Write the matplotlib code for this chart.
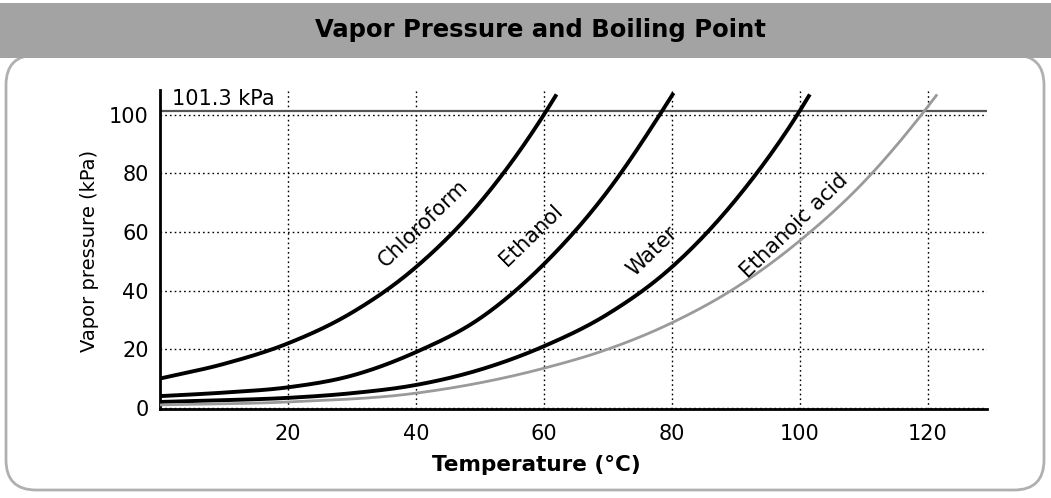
import matplotlib
matplotlib.use('Agg')
import numpy as np
import matplotlib.pyplot as plt
from matplotlib.patches import FancyBboxPatch, Rectangle

# Data (temperature in C, vapor pressure in kPa)
chloroform_t = [0, 10, 20, 30, 40, 50, 60, 62]
chloroform_p = [10, 15, 22, 32.5, 48, 70, 100, 107]

ethanol_t = [0, 10, 20, 30, 40, 50, 60, 70, 78.5, 80.3]
ethanol_p = [4, 5.2, 7, 11, 19, 30.5, 49, 74, 101.3, 107.5]

water_t = [0, 10, 20, 30, 40, 50, 60, 70, 80, 90, 100, 101.6]
water_p = [2, 2.6, 3.4, 5, 7.8, 13, 21, 32, 48, 71, 101.3, 107]

acid_t = [0, 20, 40, 60, 70, 80, 90, 100, 110, 119.5, 121.5]
acid_p = [1, 2, 5, 13.5, 20, 29, 41, 57, 77, 101.3, 107]

x_ticks = [20, 40, 60, 80, 100, 120]
y_ticks = [0, 20, 40, 60, 80, 100]
boiling_line = 101.3

labels = ['Chloroform', 'Ethanol', 'Water', 'Ethanoic acid']
label_pos = [(41.1, 62.8), (58.0, 59.0), (76.9, 53.6), (99.1, 62.1)]


def smooth(t, p, n=300):
    """cubic hermite through the read points, just to draw a smooth line"""
    t = np.asarray(t, float)
    y = np.asarray(p, float)
    h = np.diff(t)
    d = np.diff(y) / h
    m = np.empty_like(y)
    m[0], m[-1] = d[0], d[-1]
    m[1:-1] = (d[:-1] * h[1:] + d[1:] * h[:-1]) / (h[:-1] + h[1:])
    tt = np.linspace(t[0], t[-1], n)
    i = np.clip(np.searchsorted(t, tt) - 1, 0, len(h) - 1)
    s = (tt - t[i]) / h[i]
    h00 = 2 * s**3 - 3 * s**2 + 1
    h10 = s**3 - 2 * s**2 + s
    h01 = -2 * s**3 + 3 * s**2
    h11 = s**3 - s**2
    yy = h00 * y[i] + h10 * h[i] * m[i] + h01 * y[i + 1] + h11 * h[i] * m[i + 1]
    return tt, yy


fig = plt.figure(figsize=(10.51, 4.98), dpi=100)

# frame and title band
frame = FancyBboxPatch((0.06, 0.08), 10.38, 4.35,
                       boxstyle='round,pad=0,rounding_size=0.3',
                       transform=fig.dpi_scale_trans,
                       facecolor='none', edgecolor='#b0b0b0', lw=2, zorder=0)
fig.patches.append(frame)
band = Rectangle((0, 1 - 58 / 498), 1, 55 / 498, transform=fig.transFigure,
                 facecolor='#a3a3a3', edgecolor='none', zorder=1)
fig.patches.append(band)
fig.text(540 / 1051, 1 - 30 / 498, 'Vapor Pressure and Boiling Point',
         ha='center', va='center', fontsize=17.5, fontweight='bold',
         color='black', zorder=2)

ax = fig.add_axes([160 / 1051, 1 - 409 / 498, 827 / 1051, 319 / 498])
ax.set_facecolor('none')
ax.set_zorder(5)

for t, p, c, lw in [(chloroform_t, chloroform_p, 'black', 2.8),
                    (ethanol_t, ethanol_p, 'black', 2.8),
                    (water_t, water_p, 'black', 2.8),
                    (acid_t, acid_p, '#9a9a9a', 2.0)]:
    tt, pp = smooth(t, p)
    ax.plot(tt, pp, color=c, lw=lw, solid_capstyle='butt', zorder=3)

ax.axhline(boiling_line, color='#555555', lw=1.6, zorder=2)
ax.text(1.8, 105.5, '101.3 kPa', fontsize=15, ha='left', va='center')

for name, (tx, ty) in zip(labels, label_pos):
    ax.text(tx, ty, name, fontsize=15, rotation=44, rotation_mode='anchor',
            ha='center', va='center')

ax.set_xlim(0, 129.3)
ax.set_ylim(-0.4, 108.5)
ax.set_xticks(x_ticks)
ax.set_yticks(y_ticks)
ax.tick_params(length=0, labelsize=15)
ax.tick_params(axis='x', pad=11)
ax.tick_params(axis='y', pad=8)
ax.grid(True, color='black', linestyle=(0, (1.2, 2.2)), lw=1)

for s in ['top', 'right']:
    ax.spines[s].set_visible(False)
for s in ['left', 'bottom']:
    ax.spines[s].set_linewidth(2)

ax.set_xlabel('Temperature (\u00b0C)', fontsize=15.5, fontweight='bold', va='center')
ax.xaxis.set_label_coords(0.455, -0.176)
ax.set_ylabel('Vapor pressure (kPa)', fontsize=14, va='center', ha='center')
ax.yaxis.set_label_coords(-0.085, 0.495)

plt.savefig('out.png', dpi=100)
